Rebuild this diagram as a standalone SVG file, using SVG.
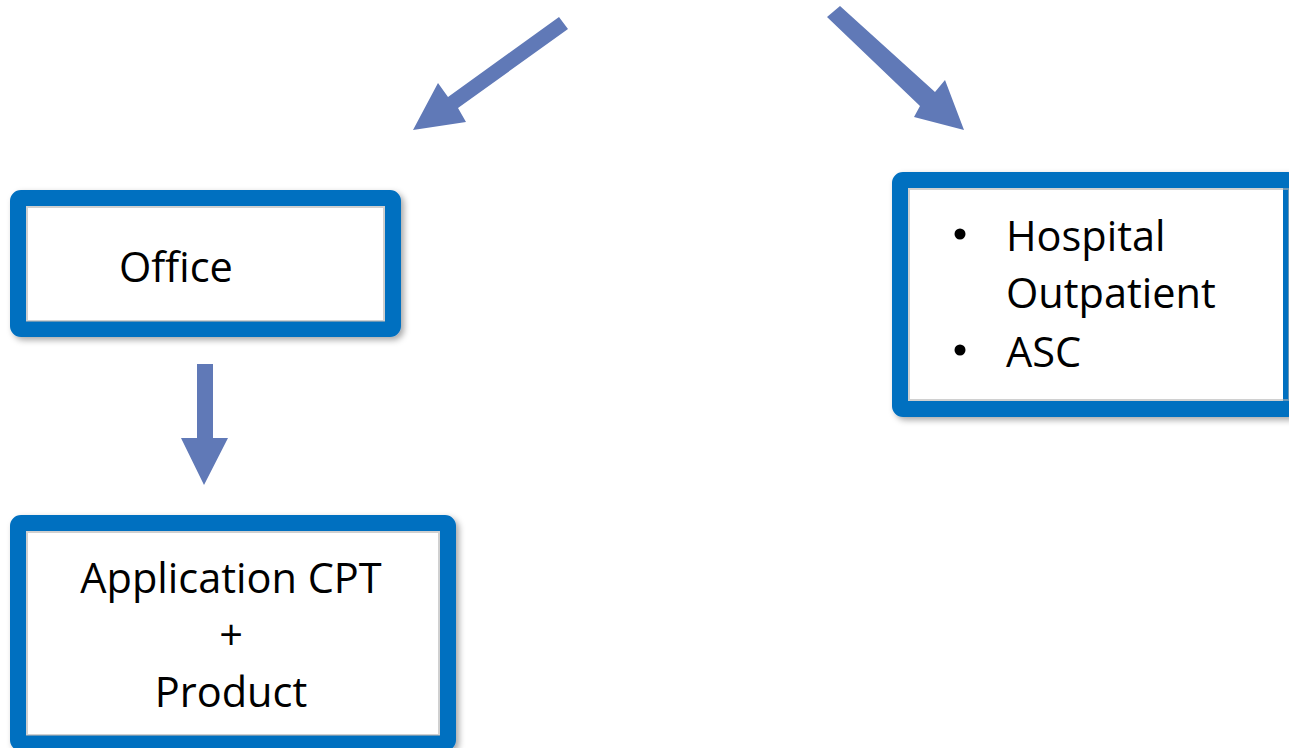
<svg xmlns="http://www.w3.org/2000/svg" width="1289" height="748" viewBox="0 0 1289 748">
<style>
.box{fill:#ffffff;stroke:#0070c0;stroke-width:16;stroke-linejoin:round;filter:url(#sh)}
.inner{fill:none;stroke:#b0b0b0;stroke-width:2;opacity:0.6}
.t{font-family:"Open Sans","Noto Sans","Liberation Sans",sans-serif;font-size:41.5px;fill:#000000}
.arrow{fill:#6079b7}
</style>
<defs>
<filter id="sh" x="-10%" y="-10%" width="125%" height="125%">
<feDropShadow dx="3" dy="3" stdDeviation="3" flood-color="#000000" flood-opacity="0.35"/>
</filter>
</defs>
<g id="connectors">
<polygon class="arrow" points="559,17 568,29 458,108 466,122 413,130 438,83 448,97"/>
<polygon class="arrow" points="840,6 827,17 920,106 914,117 964,130 945,80 935,92"/>
<polygon class="arrow" points="197,364 213,364 213,438 228,438 204,485 181,438 197,438"/>
</g>
<g id="office">
<rect class="box" x="18" y="198" width="375" height="131" rx="3"/>
<rect class="inner" x="27" y="207" width="357" height="114"/>
<text class="t" x="119" y="282">Office</text>
</g>
<g id="hospital">
<rect class="box" x="900" y="180" width="391" height="229" rx="3"/>
<rect class="inner" x="909" y="189" width="380" height="211"/>
<circle cx="960" cy="234" r="5.5"/>
<circle cx="960" cy="350" r="5.5"/>
<text class="t" x="1006" y="251">Hospital</text>
<text class="t" x="1006" y="308">Outpatient</text>
<text class="t" x="1006" y="367">ASC</text>
</g>
<g id="application">
<rect class="box" x="18" y="523" width="430" height="220" rx="3"/>
<rect class="inner" x="27" y="532" width="412" height="203"/>
<text class="t" x="231" y="593" text-anchor="middle">Application CPT</text>
<text class="t" x="231" y="650" text-anchor="middle">+</text>
<text class="t" x="231" y="707" text-anchor="middle">Product</text>
</g>
</svg>
